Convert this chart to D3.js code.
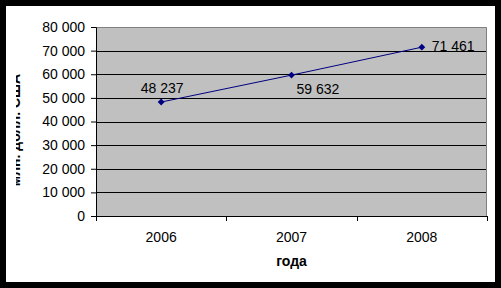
<!DOCTYPE html>
<html>
<head>
<meta charset="utf-8">
<script src="https://cdn.jsdelivr.net/npm/d3@7"></script>
<style>
  body { margin: 0; background: #000; }
  text { font-family: "Liberation Sans", Arial, sans-serif; }
</style>
</head>
<body>
<svg id="chart" width="501" height="288"></svg>
<script>
// data
const years = ["2006", "2007", "2008"];
const values = [48237, 59632, 71461];
const yTicks = [0, 10000, 20000, 30000, 40000, 50000, 60000, 70000, 80000];
const xTitle = "года";
const yTitle = "млн. долл. США";

// label offsets relative to each point (dx, dy, anchor)
const labelPos = [[1, -9, "middle"], [5, 19, "start"], [10, 4, "start"]];

var svg = d3.select("#chart"),
  margin = {top: 27, left: 96, bottom: 72, right: 14},
  width = +svg.attr("width") - margin.left - margin.right,
  height = +svg.attr("height") - margin.top - margin.bottom;

// white chart area inside the black frame
svg.append("rect")
  .attr("x", 6).attr("y", 6)
  .attr("width", 489).attr("height", 276)
  .attr("fill", "#fff");

var x = d3.scaleBand().domain(years).range([0, width]);
var y = d3.scaleLinear().domain([0, 80000]).range([height, 0]);

var fmt = v => d3.format(",")(v).replace(/,/g, " ");

var g = svg.append("g")
  .attr("transform", "translate(" + margin.left + "," + margin.top + ")");

g.append("rect")
  .attr("width", width).attr("height", height)
  .attr("fill", "#c0c0c0");

// grid lines
g.selectAll(".grid").data(yTicks.slice(1, -1))
  .enter().append("line")
  .attr("x1", 0).attr("x2", width)
  .attr("y1", d => Math.round(y(d)) + 0.5)
  .attr("y2", d => Math.round(y(d)) + 0.5)
  .attr("stroke", "#000");

// plot border top/right in grey
g.append("path")
  .attr("d", "M0.5,0.5H" + (width - 0.5) + "V" + height)
  .attr("fill", "none")
  .attr("stroke", "#808080");

// y axis
var yAxis = g.append("g")
  .call(d3.axisLeft(y).tickValues(yTicks).tickFormat(fmt).tickSize(5).tickPadding(6));
yAxis.select(".domain").attr("stroke", "#000");
yAxis.selectAll("text").attr("font-size", 14).attr("fill", "#000")
  .attr("font-family", "Liberation Sans, Arial, sans-serif");

// x axis with ticks at category boundaries
var xAxisG = g.append("g").attr("transform", "translate(0," + height + ")");
xAxisG.append("line")
  .attr("x1", 0).attr("x2", width)
  .attr("y1", 0.5).attr("y2", 0.5)
  .attr("stroke", "#000");
var bounds = years.map(d => x(d)).concat([width]);
xAxisG.selectAll(".tk").data(bounds)
  .enter().append("line")
  .attr("x1", d => Math.round(d) + 0.5).attr("x2", d => Math.round(d) + 0.5)
  .attr("y1", 0).attr("y2", 5)
  .attr("stroke", "#000");
xAxisG.selectAll(".lbl").data(years)
  .enter().append("text")
  .attr("x", d => x(d) + x.bandwidth() / 2)
  .attr("y", 26)
  .attr("text-anchor", "middle")
  .attr("font-size", 14)
  .text(d => d);

// line + markers
var pts = years.map((d, i) => [x(d) + x.bandwidth() / 2, y(values[i])]);
g.append("path")
  .attr("d", d3.line()(pts))
  .attr("fill", "none")
  .attr("stroke", "#000080")
  .attr("stroke-width", 1);
g.selectAll(".pt").data(pts)
  .enter().append("path")
  .attr("transform", d => "translate(" + d[0] + "," + d[1] + ")")
  .attr("d", d3.symbol(d3.symbolDiamond2, 30))
  .attr("fill", "#000080");

g.selectAll(".vl").data(pts)
  .enter().append("text")
  .attr("x", (d, i) => d[0] + labelPos[i][0])
  .attr("y", (d, i) => d[1] + labelPos[i][1])
  .attr("text-anchor", (d, i) => labelPos[i][2])
  .attr("font-size", 14)
  .text((d, i) => fmt(values[i]));

// axis titles
svg.append("text")
  .attr("x", margin.left + width / 2)
  .attr("y", 266)
  .attr("text-anchor", "middle")
  .attr("font-size", 14)
  .attr("font-weight", "bold")
  .text(xTitle);

// y title is cut off at the left in the original
svg.append("clipPath").attr("id", "yclip")
  .append("rect").attr("x", 16).attr("y", 0).attr("width", 30).attr("height", 288);
svg.append("g")
  .attr("clip-path", "url(#yclip)")
  .append("text")
  .attr("transform", "translate(20,130) rotate(-90)")
  .attr("text-anchor", "middle")
  .attr("font-size", 14)
  .attr("font-weight", "bold")
  .text(yTitle);
</script>
</body>
</html>
